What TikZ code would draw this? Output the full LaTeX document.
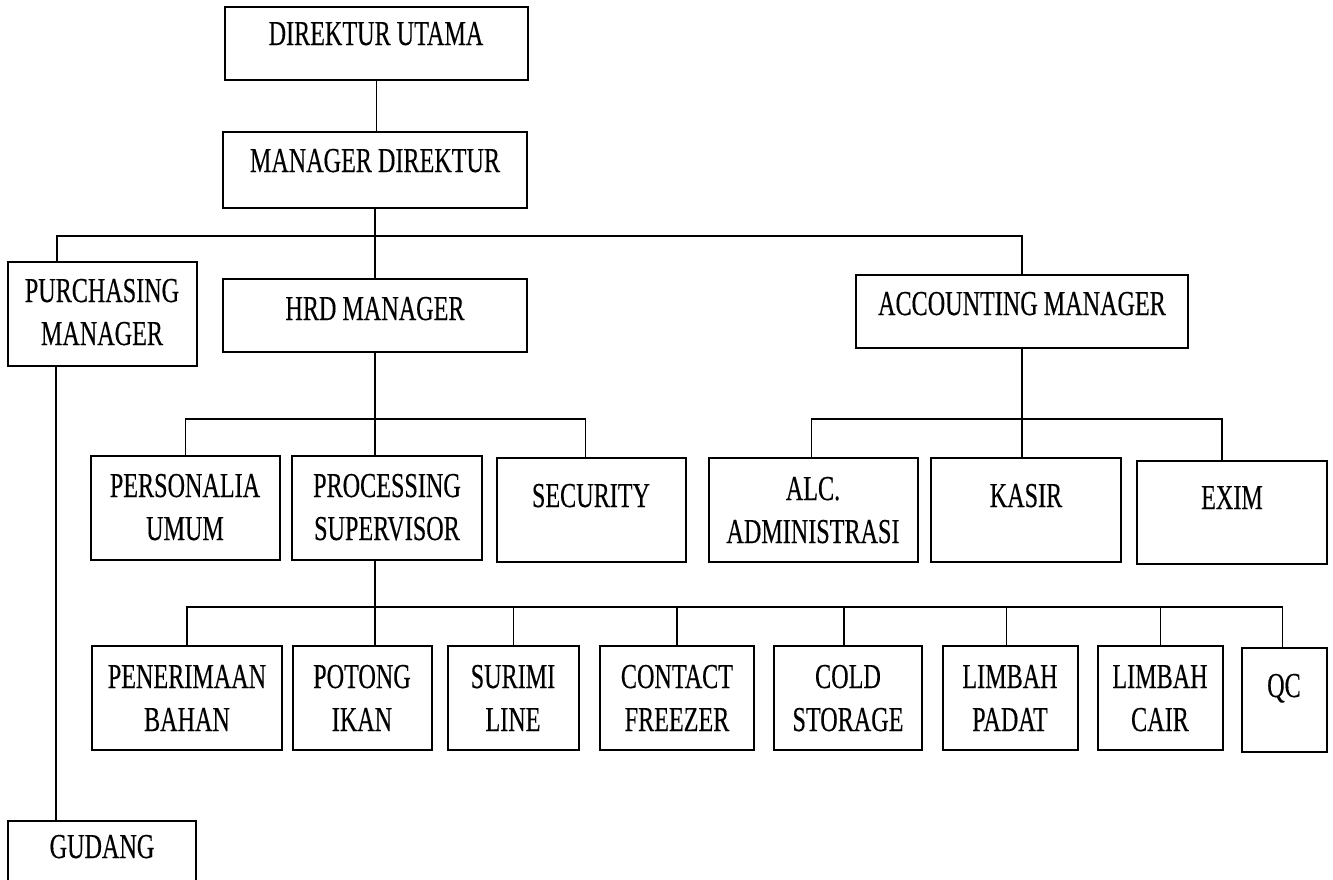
\documentclass[tikz,border=0pt]{standalone}
\usepackage{fontspec}
\setmainfont[FakeStretch=0.69,FakeBold=0.3]{Liberation Serif}
\usetikzlibrary{fit}
\newcommand{\twoline}[2]{\begin{tabular}[t]{@{}c@{}}#1\\#2\end{tabular}}
\tikzset{
  box/.style={draw, line width=1.7pt, inner sep=0pt, rectangle},
  lbl/.style={anchor=base, inner sep=0pt, font=\fontsize{35}{43}\selectfont},
  conn/.style={line width=1.5pt}
}
\begin{document}
\begin{tikzpicture}[x=1pt,y=-1pt]
\useasboundingbox (0,0) rectangle (1333,879);
% boxes
\node[box, fit={(225,7) (528,80)}] (du) {};
\node[box, fit={(223,132) (527,208)}] (md) {};
\node[box, fit={(8,262) (197,366)}] (pm) {};
\node[box, fit={(223,279) (527,352)}] (hrd) {};
\node[box, fit={(856,275) (1188,348)}] (am) {};
\node[box, fit={(91,456) (280,560)}] (pu) {};
\node[box, fit={(292,456) (482,560)}] (ps) {};
\node[box, fit={(497,458) (686,562)}] (se) {};
\node[box, fit={(709,458) (918,562)}] (alc) {};
\node[box, fit={(931,458) (1121,562)}] (ka) {};
\node[box, fit={(1137,461) (1327,564)}] (ex) {};
\node[box, fit={(92,646) (282,750)}] (pe) {};
\node[box, fit={(293,646) (432,750)}] (po) {};
\node[box, fit={(448,646) (579,750)}] (su) {};
\node[box, fit={(600,646) (754,750)}] (cf) {};
\node[box, fit={(774,646) (922,750)}] (cs) {};
\node[box, fit={(943,646) (1078,750)}] (lp) {};
\node[box, fit={(1098,646) (1223,750)}] (lc) {};
\node[box, fit={(1242,648) (1327,752)}] (qc) {};
\node[box, fit={(8,821) (196,900)}] (gu) {};
% labels
\node[lbl] (t-du) at (376,45) {DIREKTUR UTAMA};
\node[lbl] (t-md) at (375,172) {MANAGER DIREKTUR};
\node[lbl] (t-pm) at (102,302) {\twoline{PURCHASING}{MANAGER}};
\node[lbl] (t-hrd) at (375,320) {HRD MANAGER};
\node[lbl] (t-am) at (1022,315) {ACCOUNTING MANAGER};
\node[lbl] (t-pu) at (185,497) {\twoline{PERSONALIA}{UMUM}};
\node[lbl] (t-ps) at (387,497) {\twoline{PROCESSING}{SUPERVISOR}};
\node[lbl] (t-se) at (591,507) {SECURITY};
\node[lbl] (t-alc) at (813,500) {\twoline{ALC.}{ADMINISTRASI}};
\node[lbl] (t-ka) at (1026,507) {KASIR};
\node[lbl] (t-ex) at (1232,509) {EXIM};
\node[lbl] (t-pe) at (187,688) {\twoline{PENERIMAAN}{BAHAN}};
\node[lbl] (t-po) at (362,688) {\twoline{POTONG}{IKAN}};
\node[lbl] (t-su) at (513,688) {\twoline{SURIMI}{LINE}};
\node[lbl] (t-cf) at (677,688) {\twoline{CONTACT}{FREEZER}};
\node[lbl] (t-cs) at (848,688) {\twoline{COLD}{STORAGE}};
\node[lbl] (t-lp) at (1010,688) {\twoline{LIMBAH}{PADAT}};
\node[lbl] (t-lc) at (1160,688) {\twoline{LIMBAH}{CAIR}};
\node[lbl] (t-qc) at (1284,697) {QC};
\node[lbl] (t-gu) at (102,858) {GUDANG};
% bar levels
\coordinate (b1) at (0,236);
\coordinate (b2) at (0,419);
\coordinate (b3) at (0,607);
\coordinate (pmtop) at ([xshift=50pt]pm.north west);
\coordinate (pmbot) at ([xshift=49pt]pm.south west);
% connectors
\draw[conn] (du.south) -- (du.south |- md.north);
\draw[conn] (md.south) -- (hrd.north);
\draw[conn] (pm.north west -| pmtop) -- (pmtop |- b1) -- (am.north |- b1) -- (am.north);
\draw[conn] (pmbot) -- (pmbot |- gu.north);
\draw[conn] (hrd.south) -- (hrd.south |- ps.north);
\draw[conn] (pu.north) -- (pu.north |- b2) -- ([xshift=-6pt]se.north |- b2) -- ([xshift=-6pt]se.north);
\draw[conn] (hrd.south |- ps.south) -- (hrd.south |- po.north);
\draw[conn] (pe.north) -- (pe.north |- b3) -- ([xshift=-2pt]qc.north |- b3) -- ([xshift=-2pt]qc.north);
\draw[conn] (su.north |- b3) -- (su.north);
\draw[conn] (cf.north |- b3) -- (cf.north);
\draw[conn] ([xshift=-4pt]cs.north |- b3) -- ([xshift=-4pt]cs.north);
\draw[conn] ([xshift=-4pt]lp.north |- b3) -- ([xshift=-4pt]lp.north);
\draw[conn] (lc.north |- b3) -- (lc.north);
\draw[conn] (am.south) -- (am.south |- ka.north);
\draw[conn] ([xshift=-2pt]alc.north) -- ([xshift=-2pt]alc.north |- b2) -- ([xshift=-10pt]ex.north |- b2) -- ([xshift=-10pt]ex.north);
\end{tikzpicture}
\end{document}
